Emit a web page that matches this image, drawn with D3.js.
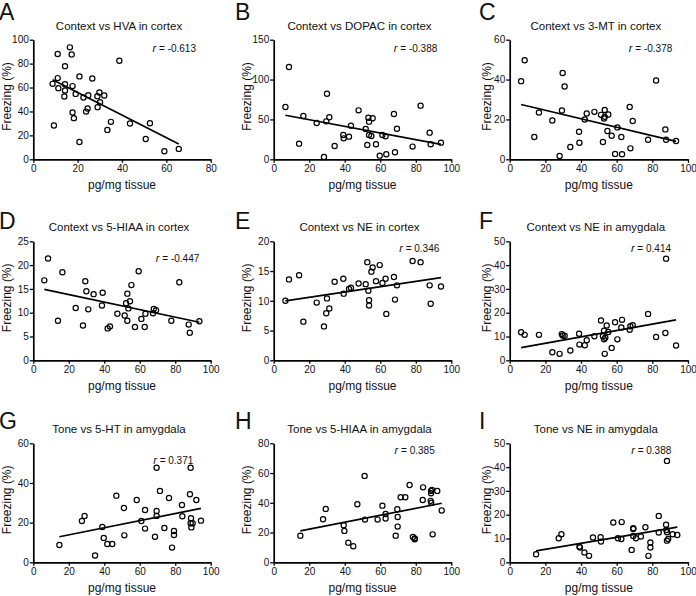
<!DOCTYPE html>
<html><head><meta charset="utf-8">
<script src="https://cdn.jsdelivr.net/npm/d3@7"></script>
<style>
body{margin:0;background:#fff}
svg text{font-family:"Liberation Sans",Arial,Helvetica,sans-serif;fill:#111}
</style>
</head><body>
<svg id="chart" width="696" height="596"></svg>
<script>
// ---------- data ----------
const panelLetters = ["A","B","C","D","E","F","G","H","I"];
const panelTitles = [
  "Context vs HVA in cortex","Context vs DOPAC in cortex","Context vs 3-MT in cortex",
  "Context vs 5-HIAA in cortex","Context vs NE in cortex","Context vs NE in amygdala",
  "Tone vs 5-HT in amygdala","Tone vs 5-HIAA in amygdala","Tone vs NE in amygdala"];
const rValues = ["-0.613","-0.388","-0.378","-0.447","0.346","0.414","0.371","0.385","0.388"];
const xTickValues = [
  [0,20,40,60,80],[0,20,40,60,80,100],[0,20,40,60,80,100],
  [0,20,40,60,80,100],[0,20,40,60,80,100],[0,20,40,60,80,100],
  [0,20,40,60,80,100],[0,20,40,60,80,100],[0,20,40,60,80,100]];
const yTickValues = [
  [0,20,40,60,80,100],[0,50,100,150],[0,20,40,60],
  [0,5,10,15,20,25],[0,5,10,15,20],[0,10,20,30,40,50],
  [0,20,40,60],[0,20,40,60,80],[0,10,20,30,40,50]];
const xLabel = "pg/mg tissue";
const yLabel = "Freezing (%)";

const dataA = [[8.7,63.1],[9.3,28.2],[11,88],[11,67.9],[11.3,59.5],[14.3,77.9],[14.3,62.8],[14.3,57.5],[14,52.5],[16.5,93.6],[17.3,87.7],[17.7,61.2],[17.7,39.1],[18.3,34.4],[19.1,54.7],[20.8,69.3],[20.8,14.5],[22.6,51.7],[23.8,39.9],[24.5,42.5],[24.8,53.6],[26.6,67.6],[28.9,52.8],[29,43.6],[29.8,55.9],[30.1,47.8],[32,53.4],[33.4,24.6],[35,31.3],[38.8,82.4],[43.6,29.9],[50.7,17],[52.6,30.2],[59.1,6.7],[65.6,8.7]];
const dataB = [[6.6,65.6],[8.6,115.8],[14.3,19.6],[16.7,54.3],[24.2,45.5],[28.3,2.9],[29.6,47.6],[30,82.3],[31.3,52.7],[34.3,16.7],[39.2,30.5],[39.4,26.3],[42.4,28.4],[43.5,42.2],[47.8,61.4],[51.8,38],[52.7,18],[53.3,52.2],[53.7,47.2],[53.7,30.5],[55,29.3],[55.7,51.4],[57.6,18.8],[59.7,4.6],[61.2,30.5],[63,28.8],[63.4,6.3],[67.7,56.8],[68.3,8.8],[69.4,38.4],[78.2,15.9],[82.7,67.3],[87.8,33.4],[88.4,18.8],[94.2,20.9]];
const dataC = [[6.4,39.2],[8.4,49.7],[13.8,11.2],[16.4,23.5],[23.9,19.5],[28,1.7],[29.3,24.5],[29.7,43.3],[30.8,36.5],[34,6.2],[38.9,13.8],[39.1,8.3],[42.1,20],[43.2,23],[47.5,23.8],[51.2,22.3],[52.3,8.7],[52.9,20.5],[53.3,24.7],[53.3,21.3],[54.8,14.2],[55.3,22.5],[57.2,11.8],[59.1,2.7],[60.4,16],[62.6,11.2],[63,2.5],[67.3,26.3],[67.7,5.5],[69,19.2],[77.6,9.8],[82.1,39.5],[87.3,15],[87.7,9.8],[93.3,9.2]];
const dataD = [[6.2,16.8],[8.3,21.4],[13.9,8.3],[16.4,18.5],[23.9,11],[28,7.3],[29.3,16.6],[29.9,14.5],[31,10.7],[34,13.9],[38.7,11.5],[39.1,14.2],[41.9,6.7],[43.2,7.1],[47.4,9.8],[51.5,9.4],[52.3,12],[53,14],[53,8.3],[53.6,10.9],[54.5,12.4],[55.3,15.8],[57.3,7],[59.4,18.7],[60.9,8.7],[62.8,7],[63.2,9.8],[67.5,9.9],[67.9,10.8],[69.2,10.5],[77.8,8.3],[82.3,16.4],[87.6,7.5],[88.2,5.8],[93.6,8.2]];
const dataE = [[6.6,10],[8.6,13.6],[14.3,14.3],[16.7,6.5],[24.2,9.7],[28.3,5.7],[29.6,7.9],[30,10.4],[31.3,8.7],[34.3,13.2],[39.2,13.7],[39.4,11.2],[42.4,12],[43.5,12.2],[47.8,12.9],[51.8,12.8],[52.7,16.5],[53.3,11.7],[53.7,10.1],[53.7,9.2],[55,14.9],[55.7,15.6],[57.6,13.3],[59.7,16],[61.2,13],[63,13.7],[63.4,7.8],[67.7,14],[68.3,10.2],[69.4,12.6],[78.2,16.7],[82.7,16.5],[87.8,12.6],[88.4,9.5],[94.2,12.4]];
const dataF = [[6.4,11.8],[8.4,10.7],[16.4,10.7],[23.9,3.4],[28,2.7],[29.2,11],[29.7,10.4],[30.8,10.3],[34,4.1],[38.9,11.2],[39.1,6.6],[42.1,6.3],[43.2,8.4],[47.5,10.1],[51.2,16.7],[52.3,10.1],[52.9,8.8],[53.6,9.5],[52.9,12.4],[53.3,2.7],[54.4,14.6],[55.3,11.9],[57.2,5.2],[59.1,16],[60.4,8.8],[63,17],[62.6,13.8],[67.3,12.8],[67.7,14.3],[69,14.7],[77.6,19.5],[82.1,9.8],[87.3,11.5],[87.7,42.7],[93.3,6.2]];
const dataG = [[14.7,8.7],[27.4,20.8],[28.9,23.4],[34.8,3.4],[38.9,17.8],[39.7,12.3],[41.7,9.2],[44.5,9.2],[46.8,33.6],[51.1,27.4],[51.3,13.6],[58.3,31.4],[60.9,20.8],[63,26.4],[63,17],[68.6,12.9],[69.5,47.7],[69.5,25.9],[69.5,23.4],[71.4,36],[73.9,17.3],[76.5,32.4],[78.2,7.4],[79.3,15.8],[79.3,13.8],[83.8,28.9],[84,23.2],[88.3,34.3],[88.7,47.7],[88.7,19.7],[88.9,22.2],[89.1,17.6],[89.8,19.7],[91.9,31.4],[94.5,21]];
const dataH = [[15,17.9],[27.8,28.9],[29.3,35.9],[39.4,24.9],[39.8,21.1],[42,13.2],[44.8,10.8],[47.1,39],[51.4,28.7],[51.2,58.1],[58.5,28.7],[61.2,38.1],[63,29.4],[63,32.5],[68.7,17.9],[69.6,35.7],[69.8,30.5],[69.8,24],[71.5,43.7],[74.1,43.7],[76.5,52],[78.4,17],[79.4,16.1],[79.4,15.5],[84.1,50.4],[83.9,41.9],[88.6,48],[88.6,46.4],[88.4,41.3],[88.7,40.1],[89.5,18.8],[89.1,48.7],[92.1,48],[94.6,34.8]];
const dataI = [[14.8,3.4],[27.5,10.1],[29,11.8],[39.1,6.6],[39.4,6.2],[41.9,4.1],[44.5,2.7],[46.7,10.4],[51,10.5],[51.2,8.7],[58.1,16.7],[60.7,10.1],[62.8,16.9],[62.6,9.8],[68.4,5.2],[69.3,14.3],[69.3,14],[69.3,11.1],[70.8,10.1],[73.6,10.8],[76.1,14.7],[77.8,2.7],[78.9,8.3],[78.9,6.2],[83.6,19.5],[83.6,12.5],[87.7,15.8],[87.9,13.6],[88.2,42.6],[88.2,12.6],[88.2,9.1],[88.9,9.8],[91.4,11.8],[94,11.5]];
const panelData = [dataA,dataB,dataC,dataD,dataE,dataF,dataG,dataH,dataI];

// regression line end points: [[x1,y1],[x2,y2]]
const fitLines = [
  [[8.7,66.5],[65.6,12.8]],
  [[6.6,55.2],[94.2,18.8]],
  [[6.4,27.5],[93.3,9]],
  [[6.2,14.9],[93.6,8]],
  [[6.6,10],[94.2,13.9]],
  [[6.4,5.3],[93.3,17]],
  [[14.7,12.9],[94.5,27.2]],
  [[15,21.1],[94.6,39.7]],
  [[14.8,4.8],[94,14.8]]];

// ---------- layout ----------
const colX = [[33.3,210.7],[273.7,451.3],[509.7,688]];
const rowY = [[39.7,159.3],[241.3,360.3],[443.3,562.3]];
const letterX = [-1,235,479];
const letterY = [19.5,228.5,428.5];
const yLabelOffset = [26.5,26.5,23];
const rOffsets = [[14.7,8.5],[14,9],[15.7,8.3],[11.4,17.3],[12,6.7],[17,6.7],[17.4,16.7],[16.6,6.7],[16.7,6.7]];

const svg = d3.select("#chart");

panelData.forEach((pts,i)=>{
  const col = i%3, row = Math.floor(i/3);
  const [L,R] = colX[col], [T,B] = rowY[row];
  const x = d3.scaleLinear().domain(d3.extent(xTickValues[i])).range([L,R]);
  const y = d3.scaleLinear().domain(d3.extent(yTickValues[i])).range([B,T]);
  const g = svg.append("g");

  // axes
  const ax = g.append("g").attr("transform",`translate(0,${B})`)
    .call(d3.axisBottom(x).tickValues(xTickValues[i]).tickSize(3.5).tickSizeOuter(0).tickPadding(2.5));
  const ay = g.append("g").attr("transform",`translate(${L},0)`)
    .call(d3.axisLeft(y).tickValues(yTickValues[i]).tickSize(3.5).tickSizeOuter(0).tickPadding(1));
  [ax,ay].forEach(a=>{
    a.select(".domain").attr("stroke","#000").attr("stroke-width",1.7);
    a.selectAll(".tick line").attr("stroke","#000").attr("stroke-width",1.3);
    a.selectAll(".tick text").attr("font-size",10).attr("fill","#222")
      .attr("font-family",'"Liberation Sans",Arial,sans-serif');
  });

  // fit line
  const f = fitLines[i];
  g.append("line").attr("x1",x(f[0][0])).attr("y1",y(f[0][1]))
    .attr("x2",x(f[1][0])).attr("y2",y(f[1][1]))
    .attr("stroke","#000").attr("stroke-width",1.7);

  // points
  g.selectAll("circle").data(pts).enter().append("circle")
    .attr("cx",d=>x(d[0])).attr("cy",d=>y(d[1])).attr("r",2.6)
    .attr("fill","none").attr("stroke","#000").attr("stroke-width",1.2);

  // title
  g.append("text").attr("x",(L+R)/2-3).attr("y",T-10).attr("text-anchor","middle")
    .attr("font-size",11.5).text(panelTitles[i]);
  // panel letter
  g.append("text").attr("x",letterX[col]).attr("y",letterY[row])
    .attr("font-size",23).text(panelLetters[i]);
  // r label
  const rt = g.append("text").attr("x",R-rOffsets[i][0]).attr("y",T+rOffsets[i][1]+3.5)
    .attr("text-anchor","end").attr("font-size",10);
  rt.append("tspan").attr("font-style","italic").attr("font-size",11).text("r");
  rt.append("tspan").text(" = "+rValues[i]);
  // axis labels
  g.append("text").attr("x",(L+R)/2).attr("y",B+30).attr("text-anchor","middle")
    .attr("font-size",12).text(xLabel);
  g.append("text").attr("transform",`translate(${L-yLabelOffset[col]+4},${(T+B)/2-3}) rotate(-90)`)
    .attr("text-anchor","middle").attr("font-size",12).text(yLabel);
});
</script>
</body></html>
